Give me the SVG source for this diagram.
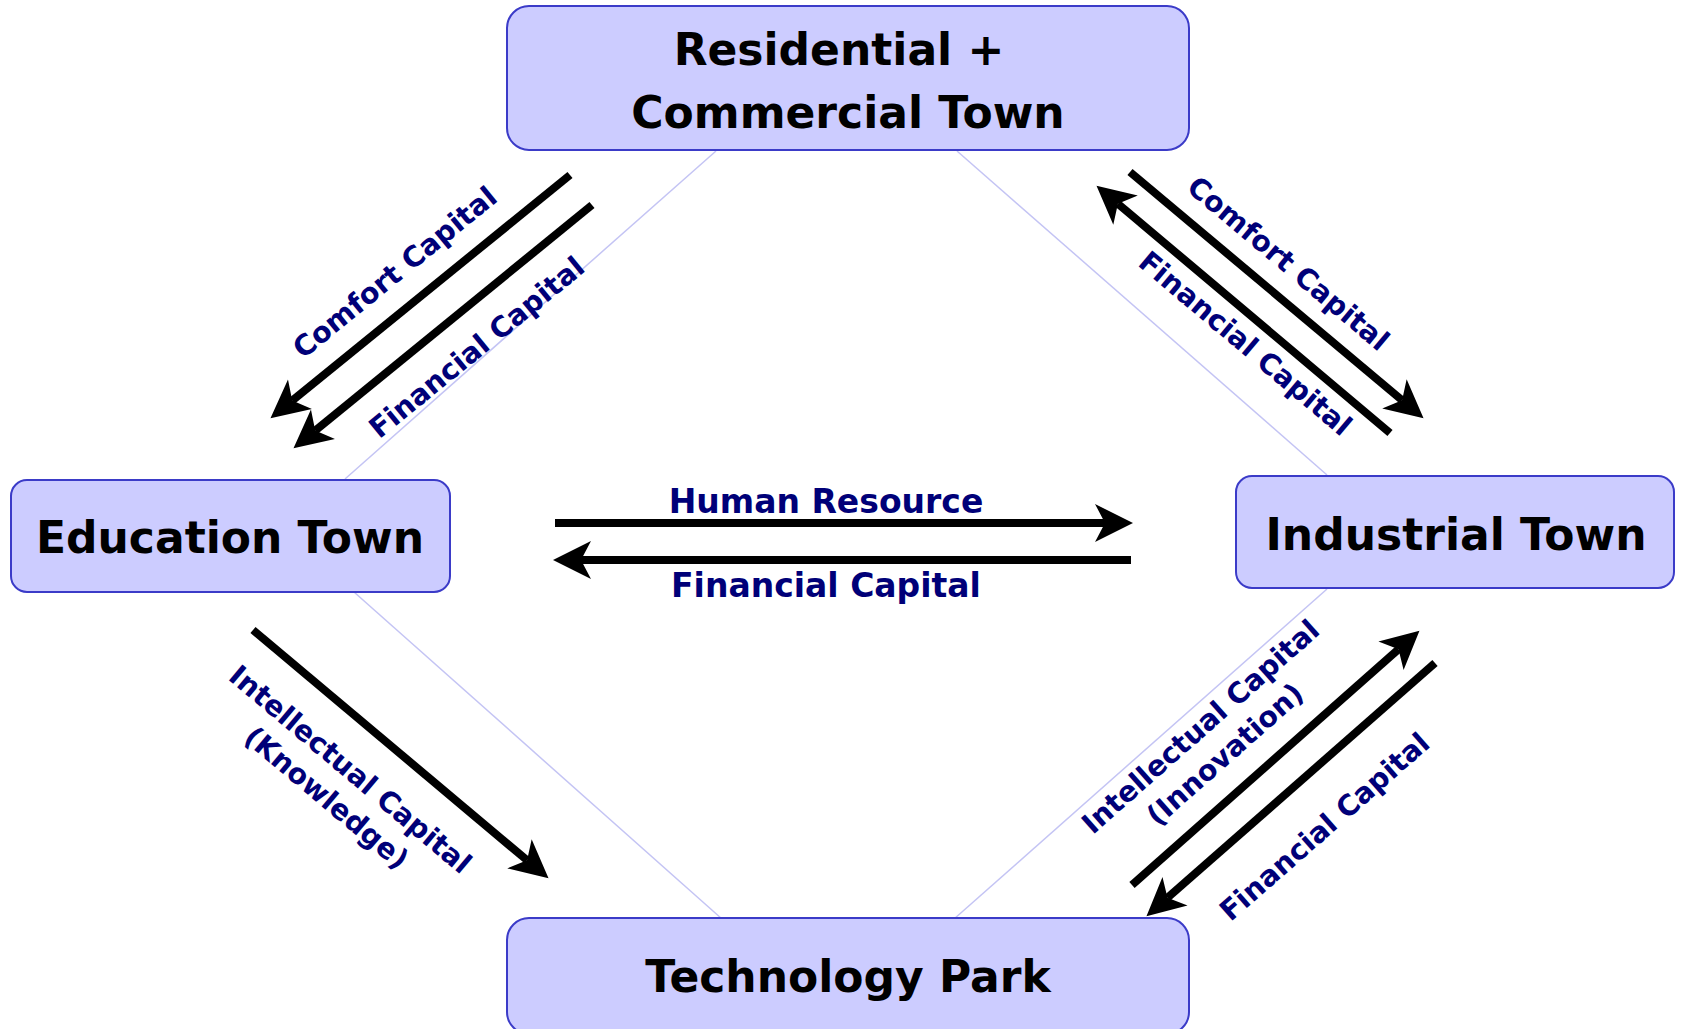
<svg xmlns="http://www.w3.org/2000/svg" width="1681" height="1029" viewBox="0 0 1681 1029">
<style>
.box{fill:#ccccff;stroke:#3b3bc8;stroke-width:2}
.nt{font-family:"DejaVu Sans",Verdana,sans-serif;font-weight:bold;font-size:44px;fill:#000;text-anchor:middle}
.lt{font-family:"DejaVu Sans",Verdana,sans-serif;font-weight:bold;font-size:28.5px;fill:#000078;text-anchor:middle}
.ht{font-size:33px}
.thin{stroke:#c4c4f4;stroke-width:1.5;fill:none}
.arr{stroke:#000;stroke-width:8;fill:none;marker-end:url(#ah)}
</style>
<defs>
<marker id="ah" markerUnits="userSpaceOnUse" markerWidth="60" markerHeight="60" refX="0" refY="0" orient="auto" overflow="visible">
<path d="M28,0 L-10,-19 L0,0 L-10,19 Z" fill="#000"/>
</marker>
</defs>
<rect width="1681" height="1029" fill="#fff"/>
<g id="connectors">
<line class="thin" x1="716" y1="151" x2="345" y2="479"/>
<line class="thin" x1="957" y1="151" x2="1327" y2="475"/>
<line class="thin" x1="354" y1="592" x2="722" y2="919"/>
<line class="thin" x1="1327" y1="589" x2="954" y2="919"/>
<line class="arr" x1="570" y1="175" x2="292.2" y2="400.6"/>
<line class="arr" x1="592" y1="205" x2="315.2" y2="430.6"/>
<line class="arr" x1="1130" y1="172" x2="1402.1" y2="400.3"/>
<line class="arr" x1="1390" y1="433" x2="1117.9" y2="203.7"/>
<line class="arr" x1="555" y1="523" x2="1105" y2="523"/>
<line class="arr" x1="1131" y1="560" x2="581" y2="560"/>
<line class="arr" x1="253" y1="630" x2="527.1" y2="860.3"/>
<line class="arr" x1="1132" y1="885" x2="1398.5" y2="649.2"/>
<line class="arr" x1="1435" y1="663" x2="1167.5" y2="897.8"/>
<text class="lt" transform="translate(401,280) rotate(-39.1)">Comfort Capital</text>
<text class="lt" transform="translate(483,355) rotate(-39.2)">Financial Capital</text>
<text class="lt" transform="translate(1282,271) rotate(40)">Comfort Capital</text>
<text class="lt" transform="translate(1239,351) rotate(40.1)">Financial Capital</text>
<text class="lt ht" x="826" y="513">Human Resource</text>
<text class="lt ht" x="826" y="597">Financial Capital</text>
<text class="lt" transform="translate(344,777) rotate(40)"><tspan x="0" y="0">Intellectual Capital</tspan><tspan x="0" dy="37">(Knowledge)</tspan></text>
<text class="lt" transform="translate(1207,734) rotate(-41.5)"><tspan x="0" y="0">Intellectual Capital</tspan><tspan x="0" dy="37">(Innovation)</tspan></text>
<text class="lt" transform="translate(1331,834) rotate(-41.3)">Financial Capital</text>
</g>
<g id="residential">
<rect class="box" x="507" y="6" width="682" height="144" rx="22"/>
<text class="nt" x="839" y="65">Residential +</text>
<text class="nt" x="848" y="128">Commercial Town</text>
</g>
<g id="education">
<rect class="box" x="11" y="480" width="439" height="112" rx="16"/>
<text class="nt" x="230" y="553">Education Town</text>
</g>
<g id="industrial">
<rect class="box" x="1236" y="476" width="438" height="112" rx="16"/>
<text class="nt" x="1456" y="550">Industrial Town</text>
</g>
<g id="technology">
<rect class="box" x="507" y="918" width="682" height="116" rx="22"/>
<text class="nt" x="848" y="992">Technology Park</text>
</g>
</svg>
